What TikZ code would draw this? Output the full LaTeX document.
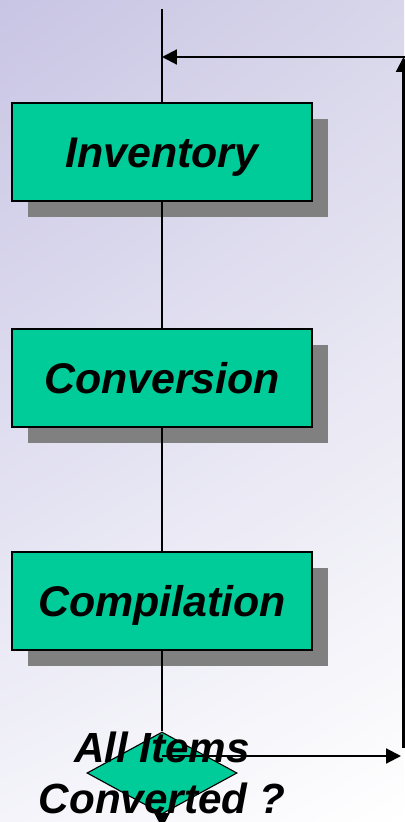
\documentclass[tikz,border=0pt]{standalone}
\usepackage{fontspec}
\setmainfont{Liberation Sans}
\usetikzlibrary{shapes.geometric,shadows,shadings,arrows.meta}

\definecolor{stepgreen}{RGB}{0,204,153}
\definecolor{bgul}{RGB}{200,196,228}
\definecolor{bgur}{RGB}{216,214,234}
\definecolor{bgll}{RGB}{244,244,250}

\begin{document}
\begin{tikzpicture}[x=0.025cm,y=-0.025cm,
	stage/.style={rectangle,draw=black,line width=1.6pt,fill=stepgreen,
		minimum width=7.5cm,minimum height=2.45cm,text height=21.8pt,text depth=0pt,
		font=\fontsize{30.5}{36}\selectfont\bfseries\itshape,
		drop shadow={shadow xshift=0.4cm,shadow yshift=-0.4cm,fill=black!50,opacity=1}},
	decision/.style={diamond,draw=black,line width=0.8pt,fill=stepgreen,
		minimum width=3.75cm,minimum height=2.05cm,inner sep=0pt},
	flow/.style={draw=black,line width=1.5pt},
	tip/.style={-{Triangle[length=0.37cm,width=0.37cm]}}]
	% background
	\shade[upper left=bgul,upper right=bgur,lower left=bgll,lower right=white] (0,0) rectangle (404,822);
	\useasboundingbox (0,0) rectangle (404,822);

	\coordinate (top) at (162,9);
	\coordinate (merge) at (162,57);
	\coordinate (rtop) at (403.5,57);
	\coordinate (redge) at (406,57);
	\coordinate (rbot) at (403.5,748);
	\coordinate (split) at (162,756);
	\coordinate (rout) at (401,756);
	\coordinate (out) at (162,828);

	\node[stage] (inv) at (162,152) {Inventory};
	\node[stage] (conv) at (162,378) {Conversion};
	\node[stage] (comp) at (162,601) {Compilation};
	\node[decision] (chk) at (162,773) {};

	\begin{scope}[every path/.style={flow}]
		\path (top) -- (inv);
		\path (inv) -- (conv);
		\path (conv) -- (comp);
		\path (comp) -- (chk);
		\path [tip] (chk) -- (out);
		\path [tip] (redge) -- (merge);
		\path [tip] (rbot) -- (rtop);
		\path [tip] (split) -- (rout);
	\end{scope}

	\node[font=\fontsize{30}{36}\selectfont\bfseries\itshape,align=center] (chklbl) at (chk) {All Items\\Converted ?};
\end{tikzpicture}
\end{document}
